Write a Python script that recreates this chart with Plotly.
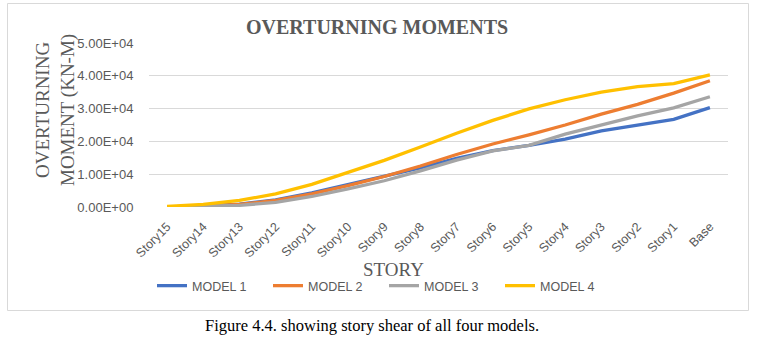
import plotly.graph_objects as go

stories = ["Story15", "Story14", "Story13", "Story12", "Story11", "Story10", "Story9", "Story8",
           "Story7", "Story6", "Story5", "Story4", "Story3", "Story2", "Story1", "Base"]

model1 = [0, 300, 900, 2200, 4300, 6800, 9300, 11900, 14800, 17200, 18800, 20700, 23200, 25000, 26700, 30300]
model2 = [0, 250, 800, 2000, 4000, 6500, 9300, 12500, 16000, 19200, 22000, 25000, 28300, 31300, 34700, 38500]
model3 = [0, 150, 500, 1400, 3200, 5500, 8000, 11000, 14300, 17100, 18800, 22200, 25000, 27800, 30200, 33600]
model4 = [200, 800, 2000, 4000, 6900, 10500, 14200, 18300, 22500, 26400, 29900, 32700, 35000, 36700, 37600, 40300]

series_names = ["MODEL 1", "MODEL 2", "MODEL 3", "MODEL 4"]
series_colors = ["#4472C4", "#ED7D31", "#A5A5A5", "#FFC000"]

y_tickvals = [0, 10000, 20000, 30000, 40000, 50000]
y_ticktext = ["0.00E+00", "1.00E+04", "2.00E+04", "3.00E+04", "4.00E+04", "5.00E+04"]

W, H = 771, 338
L, R, T, B = 149, 43, 43, 131
pw, ph = W - L - R, H - T - B

def px(x):
    return (x - L) / pw

def py(y):
    return (H - B - y) / ph

fig = go.Figure()
for name, vals, col in zip(series_names, [model1, model2, model3, model4], series_colors):
    fig.add_trace(go.Scatter(x=stories, y=vals, mode="lines", name=name,
                             line=dict(color=col, width=3.3)))

grey = "#595959"
fig.update_layout(
    width=W, height=H,
    margin=dict(l=L, r=R, t=T, b=B),
    paper_bgcolor="white", plot_bgcolor="white",
    showlegend=True,
    legend=dict(orientation="h", x=px(152), xanchor="left", y=py(286), yanchor="middle",
                font=dict(family="Liberation Sans", size=12.5, color=grey),
                entrywidth=71, entrywidthmode="pixels", itemwidth=30,
                bgcolor="rgba(0,0,0,0)"),
    xaxis=dict(type="category", range=[-0.5, len(stories) - 0.5], tickangle=-45,
               showgrid=False, zeroline=False,
               showline=False, ticks="", ticklabelstandoff=9,
               tickfont=dict(family="Liberation Sans", size=12.5, color=grey)),
    yaxis=dict(range=[0, 50000], tickvals=y_tickvals, ticktext=y_ticktext,
               showgrid=True, gridcolor="#d9d9d9", gridwidth=1, zeroline=False,
               ticks="outside", ticklen=12, tickcolor="rgba(0,0,0,0)",
               tickfont=dict(family="Liberation Sans", size=13, color=grey)),
    shapes=[dict(type="rect", xref="paper", yref="paper",
                 x0=px(7.5), x1=px(748.5), y0=py(310.5), y1=py(3.5),
                 line=dict(color="#d9d9d9", width=1), layer="below")],
    annotations=[
        dict(text="<b>OVERTURNING MOMENTS</b>", xref="paper", yref="paper",
             x=px(377), y=py(27), xanchor="center", yanchor="middle", showarrow=False,
             font=dict(family="Liberation Serif", size=20, color=grey)),
        dict(text="OVERTURNING<br>MOMENT (KN-M)", xref="paper", yref="paper",
             x=px(55), y=py(110), xanchor="center", yanchor="middle", showarrow=False,
             textangle=-90,
             font=dict(family="Liberation Serif", size=19, color=grey)),
        dict(text="STORY", xref="paper", yref="paper",
             x=px(393), y=py(269), xanchor="center", yanchor="middle", showarrow=False,
             font=dict(family="Liberation Serif", size=19, color=grey)),
        dict(text="Figure 4.4. showing story shear of all four models.", xref="paper", yref="paper",
             x=px(372), y=py(325), xanchor="center", yanchor="middle", showarrow=False,
             font=dict(family="Liberation Serif", size=16.5, color="black")),
    ],
)

fig.write_html("out.html")
